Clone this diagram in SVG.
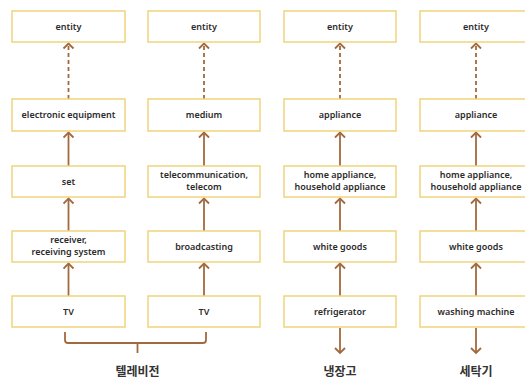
<svg xmlns="http://www.w3.org/2000/svg" width="525" height="381" viewBox="0 0 525 381">
<style>
.box{fill:#fff;stroke:#f1d47c;stroke-width:1.5}
.t{font-family:"Noto Sans","Open Sans",sans-serif;font-size:9px;font-weight:600;fill:#2b2b2b;text-anchor:middle}
.k{font-family:"Noto Sans CJK KR",sans-serif;font-size:12px;font-weight:700;fill:#333;text-anchor:middle}
.c{stroke:#a2693f;stroke-width:1.8;fill:none}
.d{stroke-dasharray:4 3}
</style>
<defs>
<marker id="ah" viewBox="0 0 10 12" refX="8.5" refY="6" markerWidth="10" markerHeight="12" markerUnits="userSpaceOnUse" orient="auto">
<path d="M3.5,1 L8.5,6 L3.5,11" fill="none" stroke="#a2693f" stroke-width="1.8"/>
</marker>
</defs>
<rect width="525" height="381" fill="#fff"/>
<g id="connectors">
<line class="c d" x1="68.5" y1="99" x2="68.5" y2="43"/>
<line class="c" x1="68.5" y1="166" x2="68.5" y2="132.5" marker-end="url(#ah)"/>
<line class="c" x1="68.5" y1="231" x2="68.5" y2="198.5" marker-end="url(#ah)"/>
<line class="c" x1="68.5" y1="296" x2="68.5" y2="263.5" marker-end="url(#ah)"/>
<line class="c d" x1="204" y1="99" x2="204" y2="43"/>
<line class="c" x1="204" y1="166" x2="204" y2="132.5" marker-end="url(#ah)"/>
<line class="c" x1="204" y1="231" x2="204" y2="198.5" marker-end="url(#ah)"/>
<line class="c" x1="204" y1="296" x2="204" y2="263.5" marker-end="url(#ah)"/>
<line class="c d" x1="340" y1="99" x2="340" y2="43"/>
<line class="c" x1="340" y1="166" x2="340" y2="132.5" marker-end="url(#ah)"/>
<line class="c" x1="340" y1="231" x2="340" y2="198.5" marker-end="url(#ah)"/>
<line class="c" x1="340" y1="296" x2="340" y2="263.5" marker-end="url(#ah)"/>
<line class="c" x1="340" y1="328" x2="340" y2="353" marker-end="url(#ah)"/>
<line class="c d" x1="476" y1="99" x2="476" y2="43"/>
<line class="c" x1="476" y1="166" x2="476" y2="132.5" marker-end="url(#ah)"/>
<line class="c" x1="476" y1="231" x2="476" y2="198.5" marker-end="url(#ah)"/>
<line class="c" x1="476" y1="296" x2="476" y2="263.5" marker-end="url(#ah)"/>
<line class="c" x1="476" y1="328" x2="476" y2="353" marker-end="url(#ah)"/>
<g id="dash-heads">
<path class="c" d="M63.5,48.5 L68.5,43.5 L73.5,48.5"/>
<path class="c" d="M199,48.5 L204,43.5 L209,48.5"/>
<path class="c" d="M335,48.5 L340,43.5 L345,48.5"/>
<path class="c" d="M471,48.5 L476,43.5 L481,48.5"/>
</g>
<path class="c" d="M65,332 V340 Q65,343 68,343 H203 Q206,343 206,340 V332 M137.5,343 V353"/>
</g>
<g id="n-c1-entity"><rect class="box" x="12" y="11" width="113" height="31"/><text class="t" x="68.5" y="29.5">entity</text></g>
<g id="n-c1-ee"><rect class="box" x="12" y="99" width="113" height="32"/><text class="t" x="68.5" y="118">electronic equipment</text></g>
<g id="n-c1-set"><rect class="box" x="12" y="166" width="113" height="31"/><text class="t" x="68.5" y="184.5">set</text></g>
<g id="n-c1-recv"><rect class="box" x="12" y="231" width="113" height="31"/><text class="t" x="68.5" y="243">receiver,</text><text class="t" x="68.5" y="255">receiving system</text></g>
<g id="n-c1-tv"><rect class="box" x="12" y="296" width="113" height="31"/><text class="t" x="68.5" y="314.5">TV</text></g>
<g id="n-c2-entity"><rect class="box" x="148" y="11" width="112" height="31"/><text class="t" x="204" y="29.5">entity</text></g>
<g id="n-c2-medium"><rect class="box" x="148" y="99" width="112" height="32"/><text class="t" x="204" y="118">medium</text></g>
<g id="n-c2-tele"><rect class="box" x="148" y="166" width="112" height="31"/><text class="t" x="204" y="178">telecommunication,</text><text class="t" x="204" y="190">telecom</text></g>
<g id="n-c2-broad"><rect class="box" x="148" y="231" width="112" height="31"/><text class="t" x="204" y="249.5">broadcasting</text></g>
<g id="n-c2-tv"><rect class="box" x="148" y="296" width="112" height="31"/><text class="t" x="204" y="314.5">TV</text></g>
<g id="n-c3-entity"><rect class="box" x="284" y="11" width="112" height="31"/><text class="t" x="340" y="29.5">entity</text></g>
<g id="n-c3-app"><rect class="box" x="284" y="99" width="112" height="32"/><text class="t" x="340" y="118">appliance</text></g>
<g id="n-c3-home"><rect class="box" x="284" y="166" width="112" height="31"/><text class="t" x="340" y="178">home appliance,</text><text class="t" x="340" y="190">household appliance</text></g>
<g id="n-c3-white"><rect class="box" x="284" y="231" width="112" height="31"/><text class="t" x="340" y="249.5">white goods</text></g>
<g id="n-c3-fridge"><rect class="box" x="284" y="296" width="112" height="31"/><text class="t" x="340" y="314.5">refrigerator</text></g>
<g id="n-c4-entity"><rect class="box" x="420" y="11" width="112" height="31"/><text class="t" x="476" y="29.5">entity</text></g>
<g id="n-c4-app"><rect class="box" x="420" y="99" width="112" height="32"/><text class="t" x="476" y="118">appliance</text></g>
<g id="n-c4-home"><rect class="box" x="420" y="166" width="112" height="31"/><text class="t" x="476" y="178">home appliance,</text><text class="t" x="476" y="190">household appliance</text></g>
<g id="n-c4-white"><rect class="box" x="420" y="231" width="112" height="31"/><text class="t" x="476" y="249.5">white goods</text></g>
<g id="n-c4-wash"><rect class="box" x="420" y="296" width="112" height="31"/><text class="t" x="476" y="314.5">washing machine</text></g>
<g id="labels">
<text class="k" x="137.5" y="376">텔레비전</text>
<text class="k" x="340" y="376">냉장고</text>
<text class="k" x="476" y="376">세탁기</text>
</g>
</svg>
